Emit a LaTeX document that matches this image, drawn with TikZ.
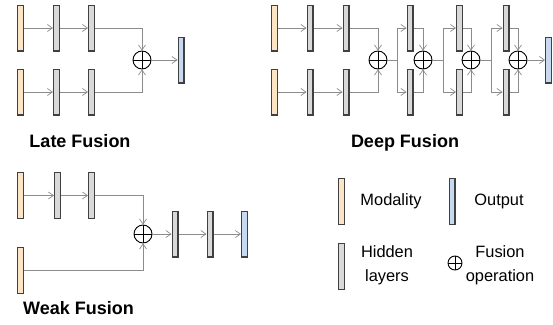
\documentclass[tikz,border=0pt]{standalone}
\usepackage{fontspec}
\setmainfont{Liberation Sans}
\usetikzlibrary{arrows.meta}

\definecolor{modfill}{HTML}{FCE4C6}
\definecolor{hidfill}{HTML}{D9D9D9}
\definecolor{outfill}{HTML}{C6D9F1}
\definecolor{bardraw}{HTML}{404040}
\definecolor{linegray}{HTML}{8C8C8C}

\tikzset{
  bar/.style={rectangle, draw=bardraw, line width=1.2pt, minimum width=5.8pt, minimum height=45.8pt, inner sep=0pt},
  modal/.style={bar, fill=modfill},
  hid/.style={bar, fill=hidfill},
  outb/.style={bar, fill=outfill},
  fuse/.style={circle, draw=black, line width=0.9pt, minimum size=18pt, inner sep=0pt,
    path picture={\draw [line width=0.9pt] (path picture bounding box.north) -- (path picture bounding box.south)
      (path picture bounding box.west) -- (path picture bounding box.east);}},
  conn/.style={draw=linegray, line width=0.7pt, -{Straight Barb[length=5pt,width=7pt]}},
  plain/.style={draw=linegray, line width=0.7pt},
  ttl/.style={font=\bfseries\fontsize{18}{20}\selectfont, anchor=base},
  lgd/.style={font=\fontsize{16.4}{24}\selectfont, align=center}
}

\begin{document}
\begin{tikzpicture}[x=1pt, y=-1pt]
\useasboundingbox (0,0) rectangle (553,324);

% late fusion
\node (LM1) at (20.5,28) [modal] {};
\node (LH1) at (56.5,28) [hid] {};
\node (LH2) at (91.5,28) [hid] {};
\node (LM2) at (20.5,92) [modal] {};
\node (LH3) at (56.5,92) [hid] {};
\node (LH4) at (91.5,92) [hid] {};
\node (LF) at (142,60) [fuse] {};
\node (LO) at (181,60) [outb] {};

\draw [conn] (LM1) -- (LH1);
\draw [conn] (LH1) -- (LH2);
\draw [conn] (LM2) -- (LH3);
\draw [conn] (LH3) -- (LH4);
\draw [conn] (LH2) -| (LF);
\draw [conn] (LH4) -| (LF);
\draw [conn] (LF) -- (LO);

\node (LT) at (80,147) [ttl] {Late Fusion};

% deep fusion
\node (DM1) at (274.5,28) [modal] {};
\node (DH1) at (310,28) [hid] {};
\node (DH2) at (346,28) [hid] {};
\node (DM2) at (274.5,92) [modal] {};
\node (DH3) at (310,92) [hid] {};
\node (DH4) at (346,92) [hid] {};
\node (DF1) at (378,60) [fuse] {};
\coordinate (DS1) at (397,60);
\node (DA1) at (410,28) [hid] {};
\node (DB1) at (410,92) [hid] {};
\node (DF2) at (423,60) [fuse] {};
\coordinate (DS2) at (443,60);
\node (DA2) at (459.5,28) [hid] {};
\node (DB2) at (459.5,92) [hid] {};
\node (DF3) at (471,60) [fuse] {};
\coordinate (DS3) at (491,60);
\node (DA3) at (506,28) [hid] {};
\node (DB3) at (506,92) [hid] {};
\node (DF4) at (518,60) [fuse] {};
\node (DO) at (548.5,60) [outb] {};

\draw [conn] (DM1) -- (DH1);
\draw [conn] (DH1) -- (DH2);
\draw [conn] (DM2) -- (DH3);
\draw [conn] (DH3) -- (DH4);
\draw [conn] (DH2) -| (DF1);
\draw [conn] (DH4) -| (DF1);

\draw [plain] (DF1) -- (DS1);
\draw [conn] (DS1) |- (DA1);
\draw [conn] (DS1) |- (DB1);
\draw [conn] (DA1) -| (DF2);
\draw [conn] (DB1) -| (DF2);

\draw [plain] (DF2) -- (DS2);
\draw [conn] (DS2) |- (DA2);
\draw [conn] (DS2) |- (DB2);
\draw [conn] (DA2) -| (DF3);
\draw [conn] (DB2) -| (DF3);

\draw [plain] (DF3) -- (DS3);
\draw [conn] (DS3) |- (DA3);
\draw [conn] (DS3) |- (DB3);
\draw [conn] (DA3) -| (DF4);
\draw [conn] (DB3) -| (DF4);
\draw [conn] (DF4) -- (DO);

\node (DT) at (405,147) [ttl] {Deep Fusion};

% weak fusion
\node (WM1) at (20.5,195.5) [modal] {};
\node (WH1) at (57.5,195.5) [hid] {};
\node (WH2) at (91.5,195.5) [hid] {};
\node (WM2) at (20.5,270.5) [modal] {};
\node (WF) at (143,234) [fuse] {};
\node (WH3) at (175,234) [hid] {};
\node (WH4) at (210,234) [hid] {};
\node (WO) at (244.5,234) [outb] {};

\draw [conn] (WM1) -- (WH1);
\draw [conn] (WH1) -- (WH2);
\draw [conn] (WH2) -| (WF);
\draw [conn] (WM2) -| (WF);
\draw [conn] (WF) -- (WH3);
\draw [conn] (WH3) -- (WH4);
\draw [conn] (WH4) -- (WO);

\node (WT) at (78.5,314) [ttl] {Weak Fusion};

% legend
\node (KM) at (341.5,201.5) [modal] {};
\node (KMT) at (391,201) [lgd] {Modality};
\node (KO) at (452,201.5) [outb] {};
\node (KOT) at (499,201) [lgd] {Output};
\node (KH) at (341.5,266.5) [hid] {};
\node (KHT) at (387,265) [lgd] {Hidden\\layers};
\node (KF) at (455,263) [fuse, minimum size=14pt] {};
\node (KFT) at (500,265) [lgd] {Fusion\\operation};
\end{tikzpicture}
\end{document}
